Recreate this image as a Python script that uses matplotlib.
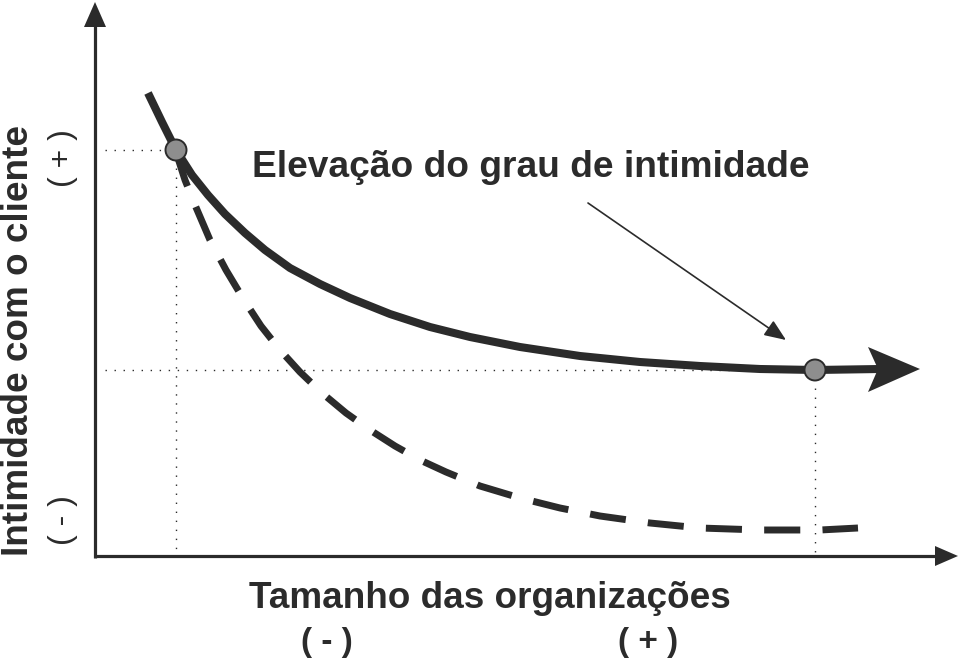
import matplotlib
matplotlib.use("Agg")
import matplotlib.pyplot as plt
from matplotlib.patches import Polygon, Circle

# curves (pixel coords, y downwards)
solid_x = [148, 162, 176, 192, 208, 225, 245, 265, 290, 320, 350, 390, 430,
           470, 520, 580, 640, 700, 760, 815, 880]
solid_y = [93, 122, 150, 175, 195, 214, 233, 250, 268, 284, 298, 314, 327,
           337, 347, 356, 362, 366, 369, 370, 369]

dash_x = [176, 185, 195, 210, 226, 244, 261, 280, 300, 322, 346, 370, 395,
          420, 446, 480, 520, 560, 600, 650, 700, 760, 820, 858]
dash_y = [152, 180, 205, 240, 270, 300, 326, 350, 372, 393, 413, 430, 446,
          460, 472, 486, 498, 508, 516, 523, 528, 530, 530, 528]

# marked points: start and end of the solid curve
mark_x = [176, 815]
mark_y = [150, 370]

x_label = "Tamanho das organizações"
y_label = "Intimidade com o cliente"
note = "Elevação do grau de intimidade"

INK = "#2b2b2b"

fig = plt.figure(figsize=(9.61, 6.58), dpi=100)
ax = fig.add_axes([0, 0, 1, 1])
ax.set_xlim(0, 961)
ax.set_ylim(658, 0)
ax.axis("off")

plt.rcParams['font.family'] = ['Liberation Sans', 'DejaVu Sans']

# axes with arrow heads
ox, oy = 95, 556
ax.plot([ox, ox], [oy + 1.5, 22], color=INK, lw=2.3, solid_capstyle="butt")
ax.plot([ox, 940], [oy, oy], color=INK, lw=2.3, solid_capstyle="butt")
ax.add_patch(Polygon([[ox, 2], [ox - 11, 27], [ox + 11, 27]], closed=True,
                     color=INK, lw=0))
ax.add_patch(Polygon([[958, oy], [935, oy - 10], [935, oy + 10]], closed=True,
                     color=INK, lw=0))

# dotted guides
for mx, my in zip(mark_x, mark_y):
    ax.plot([105, mx], [my, my], color=INK, lw=1.0, dashes=(1, 5.5))
    ax.plot([mx, mx], [my, oy], color=INK, lw=1.0, dashes=(1, 5.5))

# curves
ax.plot(dash_x, dash_y, color=INK, lw=5.0, dashes=(5.2, 3.2),
        dash_capstyle="butt", dash_joinstyle="round")
ax.plot(solid_x, solid_y, color=INK, lw=5.8, solid_capstyle="butt",
        solid_joinstyle="round")
ax.add_patch(Polygon([[920, 369], [868, 347], [878, 369], [868, 392]],
                     closed=True, color=INK, lw=0))

for mx, my in zip(mark_x, mark_y):
    ax.add_patch(Circle((mx, my), 10.5, facecolor="#8e8e8e",
                        edgecolor=INK, lw=1.4, zorder=5))

# annotation
ax.text(252, 177, note, fontsize=26.7, fontweight="bold", color=INK,
        ha="left", va="baseline")
ax.annotate("", xy=(786, 340), xytext=(588, 203),
            arrowprops=dict(arrowstyle="-|>,head_length=1.1,head_width=0.45",
                            color=INK, lw=1.2, mutation_scale=12,
                            shrinkA=0, shrinkB=0))

# labels
ax.text(490, 608, x_label, fontsize=26.6, fontweight="bold", color=INK,
        ha="center", va="baseline")
ax.text(327, 651, "( - )", fontsize=24, fontweight="bold", color=INK,
        ha="center", va="baseline")
ax.text(648, 651, "( + )", fontsize=24, fontweight="bold", color=INK,
        ha="center", va="baseline")

ax.text(28, 340, y_label, fontsize=26.6, fontweight="bold", color=INK,
        rotation=90, rotation_mode="anchor", ha="center", va="baseline")
ax.text(71, 158, "( + )", fontsize=23, color=INK, rotation=90,
        rotation_mode="anchor", ha="center", va="baseline")
ax.text(71, 520, "( - )", fontsize=23, color=INK, rotation=90,
        rotation_mode="anchor", ha="center", va="baseline")

fig.savefig("out.png", dpi=100)
